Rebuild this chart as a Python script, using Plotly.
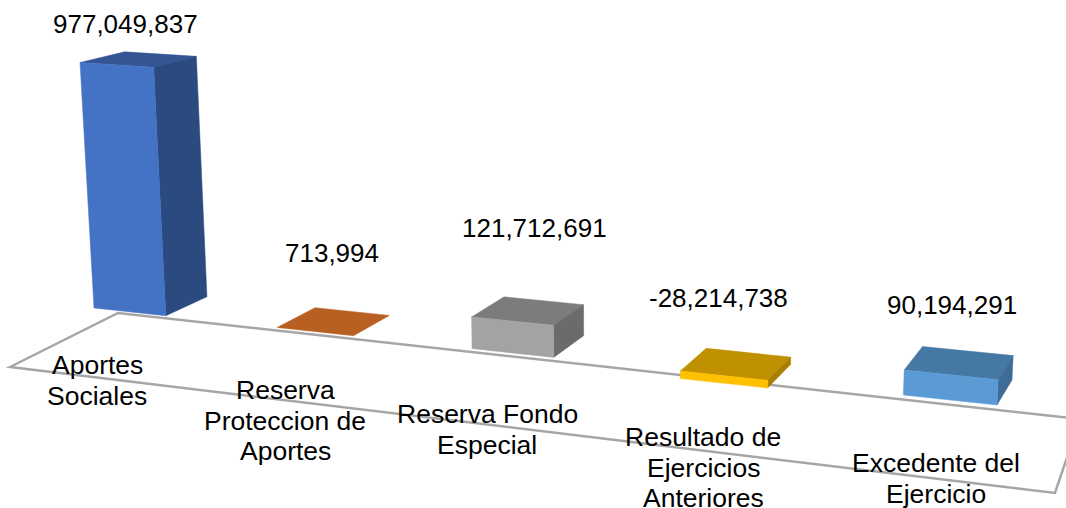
import numpy as np
import plotly.graph_objects as go

# ---- data ----
categories = ["Aportes\nSociales", "Reserva\nProteccion de\nAportes", "Reserva Fondo\nEspecial",
              "Resultado de\nEjercicios\nAnteriores", "Excedente del\nEjercicio"]
values = [977049837, 713994, 121712691, -28214738, 90194291]
value_labels = ["977,049,837", "713,994", "121,712,691", "-28,214,738", "90,194,291"]

# ---- styles ----
front_colors = ["#4472C4", "#C55A11", "#A3A3A3", "#FFC000", "#5B9BD5"]
top_colors = ["#335593", "#B85F22", "#7C7C7C", "#BF9000", "#4678A4"]
side_colors = ["#2B4A80", "#8F4A1A", "#6B6B6B", "#A87F00", "#3F6C95"]
FONT = "Liberation Sans, Arial, sans-serif"
VALUE_SIZE = 26
CAT_SIZE = 26.5
LINE_GAP = 30.5

# ---- perspective camera: bar footprint plane -> plot plane ----
BAR_WIDTH = 0.4
SPAN = len(values) - 1 + BAR_WIDTH
world_pts = [(0, 0), (SPAN, 0), (SPAN, 1), (0, 1)]
plane_pts = [(94, 308), (997, 405), (1012, 380), (137, 289.5)]
VANISH = (600.0, 9200.0)
Z_SCALE = -2.75e-11


def solve_homography(src, dst):
    A, b = [], []
    for (X, Y), (u, v) in zip(src, dst):
        A.append([X, Y, 1, 0, 0, 0, -u * X, -u * Y]); b.append(u)
        A.append([0, 0, 0, X, Y, 1, -v * X, -v * Y]); b.append(v)
    return np.append(np.linalg.solve(np.array(A, float), np.array(b, float)), 1.0).reshape(3, 3)


H = solve_homography(world_pts, plane_pts)


def project(X, Y, Z):
    p = H @ np.array([X, Y, 1.0])
    w = Z * Z_SCALE
    d = p[2] + w
    return (p[0] + w * VANISH[0]) / d, (p[1] + w * VANISH[1]) / d


def face_trace(corners, color):
    pts = [project(*c) for c in corners]
    xs = [p[0] for p in pts] + [pts[0][0]]
    ys = [p[1] for p in pts] + [pts[0][1]]
    return go.Scatter(x=xs, y=ys, mode="lines", fill="toself", fillcolor=color,
                      line=dict(color=color, width=0.5), hoverinfo="skip", showlegend=False)


fig = go.Figure()
for i, v in enumerate(values):
    x0, x1 = float(i), i + BAR_WIDTH
    z0, z1 = min(0, v), max(0, v)
    fig.add_trace(face_trace([(x0, 1, z1), (x1, 1, z1), (x1, 0, z1), (x0, 0, z1)], top_colors[i]))
    if z1 - z0 > 2e6:
        fig.add_trace(face_trace([(x1, 0, z0), (x1, 1, z0), (x1, 1, z1), (x1, 0, z1)], side_colors[i]))
        fig.add_trace(face_trace([(x0, 0, z0), (x1, 0, z0), (x1, 0, z1), (x0, 0, z1)], front_colors[i]))

# ---- floor frame ----
floor_x = [10, 118, 1080, 1055, 10]
floor_y = [367, 313, 419, 493, 367]
path = "M " + " L ".join(f"{a},{b}" for a, b in zip(floor_x, floor_y)) + " Z"
shapes = [dict(type="path", path=path, xref="x", yref="y", layer="below",
               line=dict(color="#A6A6A6", width=2.5), fillcolor="rgba(0,0,0,0)")]

# ---- text ----
value_pos = [(125, 24), (332, 253), (534, 228), (718, 298), (952, 305)]
cat_pos = [(97, 365), (285, 390), (487, 414), (703, 437), (936, 463)]
annotations = []
for label, (x, y) in zip(value_labels, value_pos):
    annotations.append(dict(x=x, y=y, text=label, showarrow=False, xanchor="center", yanchor="middle",
                            font=dict(family=FONT, size=VALUE_SIZE, color="#000000")))
for cat, (x, y) in zip(categories, cat_pos):
    for k, line in enumerate(cat.split("\n")):
        annotations.append(dict(x=x, y=y + k * LINE_GAP, text=line, showarrow=False, xanchor="center",
                                yanchor="middle", font=dict(family=FONT, size=CAT_SIZE, color="#000000")))

fig.update_layout(
    width=1066, height=508, margin=dict(l=0, r=0, t=0, b=0),
    paper_bgcolor="white", plot_bgcolor="white", showlegend=False,
    xaxis=dict(range=[0, 1066], visible=False, fixedrange=True),
    yaxis=dict(range=[508, 0], visible=False, fixedrange=True),
    shapes=shapes, annotations=annotations,
)
fig.write_html("out.html", config={"displayModeBar": False},
               post_script="document.body.style.margin='0';")
